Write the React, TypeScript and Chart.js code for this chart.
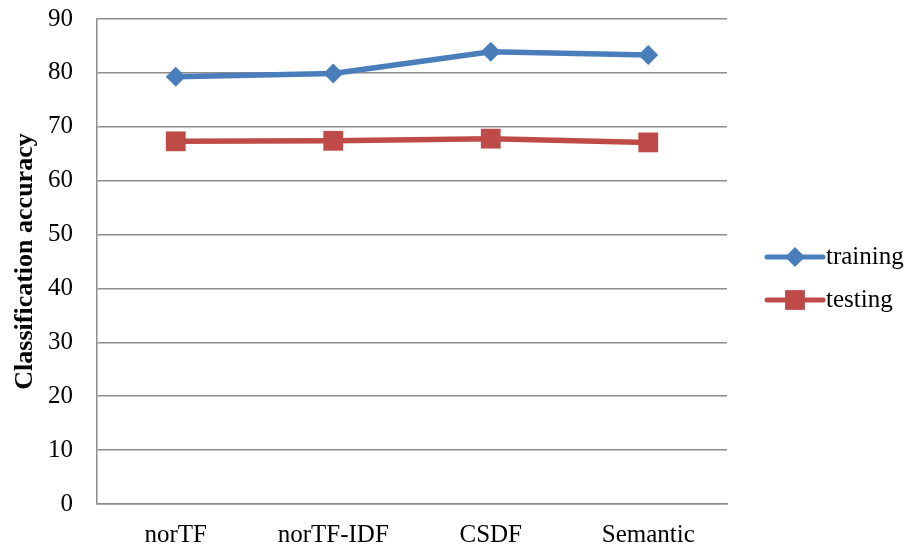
import React, { useEffect, useRef } from "react";
import { Chart, registerables } from "chart.js";

Chart.register(...registerables);

const categories = ["norTF", "norTF-IDF", "CSDF", "Semantic"];
const trainingValues = [79.3, 79.9, 83.9, 83.3];
const testingValues = [67.3, 67.4, 67.8, 67.1];
const seriesNames = ["training", "testing"];

const FONT = "'Liberation Serif', 'Times New Roman', serif";
const BLUE = "#4A7EBB";
const RED = "#BE4B48";
const GRID = "#8c8c8c";

function drawMarker(ctx: CanvasRenderingContext2D, style: string, x: number, y: number, r: number, color: string) {
  ctx.save();
  ctx.fillStyle = color;
  ctx.beginPath();
  if (style === "rectRot") {
    ctx.moveTo(x - r, y);
    ctx.lineTo(x, y - r);
    ctx.lineTo(x + r, y);
    ctx.lineTo(x, y + r);
  } else {
    const s = Math.SQRT1_2 * r;
    ctx.rect(x - s, y - s, 2 * s, 2 * s);
  }
  ctx.closePath();
  ctx.fill();
  ctx.restore();
}

// Legend on the right: a short line segment with the series marker, then the name.
const sideLegend = {
  id: "sideLegend",
  afterDraw(chart: any) {
    const { ctx, chartArea } = chart;
    const x0 = chartArea.right + 40;
    const x1 = x0 + 56;
    const rows = [chartArea.top + 238, chartArea.top + 281];
    chart.data.datasets.forEach((ds: any, i: number) => {
      const y = rows[i];
      ctx.save();
      ctx.strokeStyle = ds.borderColor;
      ctx.lineWidth = 5;
      ctx.lineCap = "round";
      ctx.beginPath();
      ctx.moveTo(x0, y);
      ctx.lineTo(x1, y);
      ctx.stroke();
      ctx.restore();
      drawMarker(ctx, ds.pointStyle, (x0 + x1) / 2, y, ds.pointRadius, ds.backgroundColor);
      ctx.save();
      ctx.fillStyle = "#000";
      ctx.font = `25px ${FONT}`;
      ctx.textBaseline = "middle";
      ctx.textAlign = "left";
      ctx.fillText(ds.label, x1 + 3, y);
      ctx.restore();
    });
  },
};

export default function App() {
  const canvasRef = useRef<HTMLCanvasElement | null>(null);

  useEffect(() => {
    if (!canvasRef.current) return;
    const chart = new Chart(canvasRef.current, {
      type: "line",
      data: {
        labels: categories,
        datasets: [
          {
            label: seriesNames[0],
            data: trainingValues,
            borderColor: BLUE,
            backgroundColor: BLUE,
            borderWidth: 5.5,
            pointStyle: "rectRot",
            pointRadius: 10,
            pointBorderWidth: 0,
            tension: 0,
          },
          {
            label: seriesNames[1],
            data: testingValues,
            borderColor: RED,
            backgroundColor: RED,
            borderWidth: 5.5,
            pointStyle: "rect",
            pointRadius: 14,
            pointBorderWidth: 0,
            tension: 0,
          },
        ],
      },
      options: {
        responsive: false,
        animation: false,
        devicePixelRatio: 1,
        layout: { padding: { top: 19, right: 185, bottom: 0, left: 0 } },
        plugins: {
          legend: { display: false },
          tooltip: { enabled: false },
        },
        scales: {
          x: {
            type: "category",
            offset: true,
            grid: { display: false, drawTicks: false },
            border: { display: true, color: GRID, width: 1.5 },
            ticks: {
              color: "#000",
              padding: 16,
              font: { family: FONT, size: 25 },
            },
            afterFit: (scale: any) => {
              scale.height = 44;
              scale.paddingLeft = 0;
              scale.paddingRight = 0;
            },
          },
          y: {
            min: 0,
            max: 90,
            ticks: {
              stepSize: 10,
              color: "#000",
              padding: 24,
              font: { family: FONT, size: 25 },
            },
            grid: { color: GRID, lineWidth: 1.5, drawTicks: false },
            border: { display: true, color: GRID, width: 1.5 },
            title: {
              display: true,
              text: "Classification accuracy",
              color: "#000",
              font: { family: FONT, size: 26, weight: "bold" },
              padding: { top: 10, bottom: 0 },
            },
            afterFit: (scale: any) => {
              scale.width = 97;
              scale.paddingTop = 0;
              scale.paddingBottom = 0;
            },
          },
        },
      },
      plugins: [sideLegend],
    });
    return () => chart.destroy();
  }, []);

  return (
    <div style={{ position: "fixed", left: 0, top: 0, width: 912, height: 548, background: "#fff" }}>
      <canvas ref={canvasRef} width={912} height={548} />
    </div>
  );
}
